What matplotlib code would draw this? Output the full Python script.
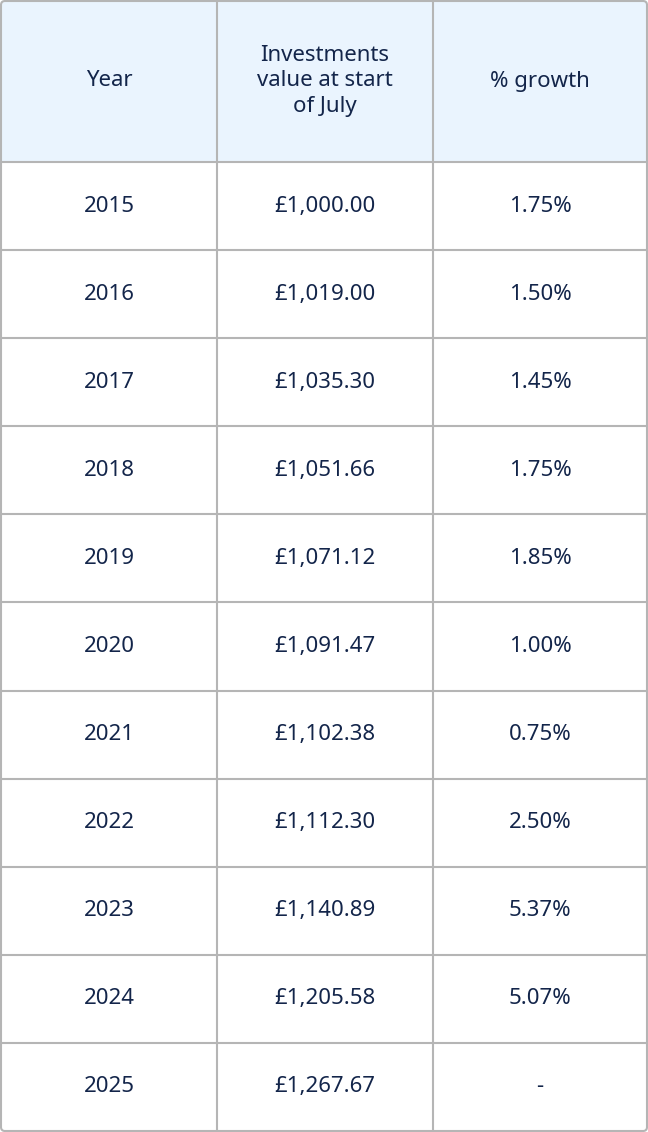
import matplotlib
matplotlib.use('Agg')
import matplotlib.pyplot as plt
from matplotlib.patches import Rectangle, FancyBboxPatch

headers = ["Year", "Investments\nvalue at start\nof July", "% growth"]
years = ["2015", "2016", "2017", "2018", "2019", "2020", "2021", "2022", "2023", "2024", "2025"]
values = ["£1,000.00", "£1,019.00", "£1,035.30", "£1,051.66", "£1,071.12", "£1,091.47",
          "£1,102.38", "£1,112.30", "£1,140.89", "£1,205.58", "£1,267.67"]
growth = ["1.75%", "1.50%", "1.45%", "1.75%", "1.85%", "1.00%",
          "0.75%", "2.50%", "5.37%", "5.07%", "-"]

W, H = 648, 1132
col_x = [1, 217, 433, 647]
header_h = 162
row_h = (H - 1 - header_h) / len(years)
text_color = '#13254a'
line_color = '#b5b5b5'

fig = plt.figure(figsize=(6.48, 11.32), dpi=100)
ax = fig.add_axes([0, 0, 1, 1])
ax.set_xlim(0, W)
ax.set_ylim(H, 0)
ax.axis('off')

# header background
ax.add_patch(Rectangle((col_x[0], 1), col_x[-1] - col_x[0], header_h - 1,
                       facecolor='#eaf4fe', edgecolor='none'))

# grid lines
for x in col_x[1:-1]:
    ax.plot([x, x], [1, H - 1], color=line_color, lw=1.5)
for i in range(len(years)):
    y = header_h + i * row_h
    ax.plot([col_x[0], col_x[-1]], [y, y], color=line_color, lw=1.5)

# outer border
ax.add_patch(FancyBboxPatch((col_x[0], 1), col_x[-1] - col_x[0], H - 2,
                            boxstyle='round,pad=0,rounding_size=4',
                            facecolor='none', edgecolor=line_color, lw=1.5))

centers = [(col_x[i] + col_x[i + 1]) / 2 for i in range(3)]
for c, h in zip(centers, headers):
    ax.text(c, header_h / 2, h, ha='center', va='center', fontsize=16,
            fontweight='bold', color=text_color, family='Noto Sans', linespacing=1.3)

for i, row in enumerate(zip(years, values, growth)):
    y = header_h + (i + 0.5) * row_h
    for c, t in zip(centers, row):
        ax.text(c, y, t, ha='center', va='center', fontsize=16,
                color=text_color, family='Noto Sans')

fig.savefig('out.png', dpi=100)
